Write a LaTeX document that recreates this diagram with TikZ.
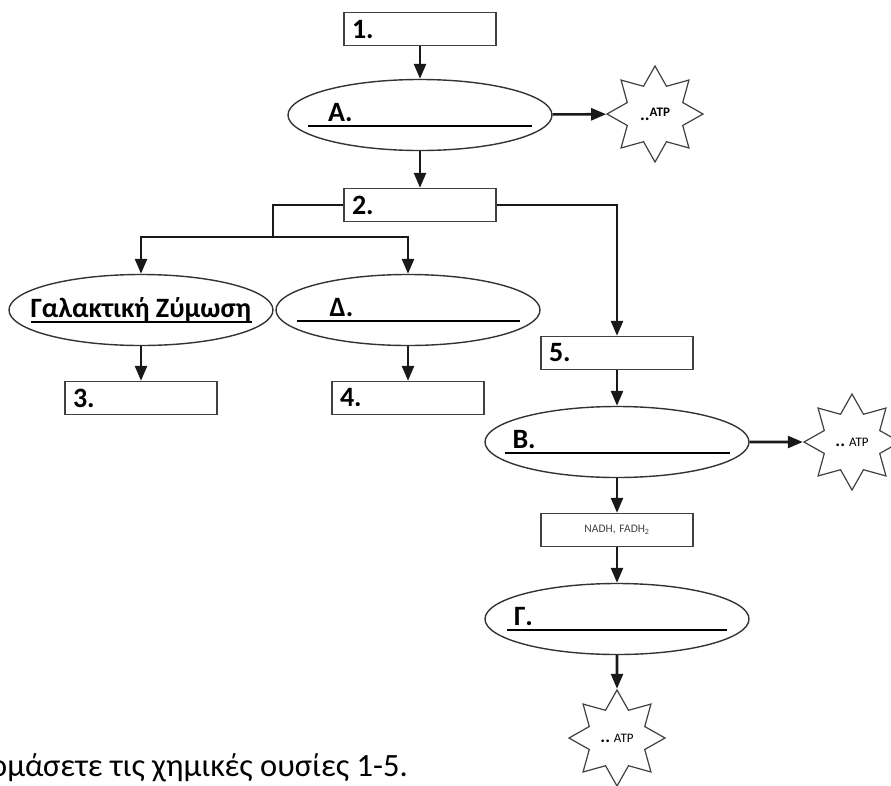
\documentclass[tikz,border=0pt]{standalone}
\usepackage{fontspec}
\setmainfont{Carlito}
\usetikzlibrary{shapes.geometric,arrows.meta}
\newcommand{\fillin}[3]{\makebox[0pt]{\makebox[#1][l]{\rlap{\rule[-6pt]{#1}{1.8pt}}\hspace*{#2}#3}}}

\begin{document}
\begin{tikzpicture}[
    x=1pt, y=-1pt,
    every node/.style={align=center, font=\bfseries\fontsize{28}{30}\selectfont},
    box/.style={draw=black!75, line width=1.4pt, minimum width=152pt, minimum height=33pt,
      text width=136pt, align=left, inner xsep=8pt, inner ysep=0pt},
    proc/.style={ellipse, draw=black!80, line width=1.4pt, minimum width=264pt,
      minimum height=71pt, inner sep=0pt},
    atp/.style={star, star points=8, star point ratio=1.6, draw=black!75, line width=1.2pt,
      minimum size=96pt, inner sep=0pt, font=\fontsize{13}{14}\selectfont},
    flow/.style={line width=2.6pt, draw=black!90, -{Triangle[length=15pt,width=12pt]}},
    link/.style={line width=2.6pt, draw=black!90}
  ]
  \useasboundingbox (0,0) rectangle (891,785);

  % first stage
  \node[box] (s1) at (420,29) {1.};
  \node[proc] (pA) at (420,115) {\fillin{224pt}{20pt}{Α.}};
  \node[atp] (atpA) at (655,114) {{\bfseries\fontsize{18}{18}\selectfont..}\raisebox{4pt}{\bfseries ATP}};
  \node[box] (s2) at (420,205) {2.};
  \coordinate (split) at (273,237);

  % fermentation branch
  \node[proc] (pLac) at (141,310) {\fillin{221pt}{0pt}{Γαλακτική Ζύμωση}};
  \node[proc] (pD) at (408,310) {\fillin{223pt}{33pt}{Δ.}};
  \node[box] (s3) at (141,398) {3.};
  \node[box] (s4) at (408,398) {4.};

  % respiration branch
  \node[box] (s5) at (617,353) {5.};
  \node[proc] (pB) at (617,442) {\fillin{225pt}{8pt}{Β.}};
  \node[atp] (atpB) at (852,442) {{\bfseries\fontsize{18}{18}\selectfont..} ATP};
  \node[box, align=center, font=\fontsize{11.5}{12}\selectfont\color{black!75}] (sN) at (617,530)
    {NADH, FADH\textsubscript{2}};
  \node[proc] (pC) at (617,619) {\fillin{220pt}{7pt}{Γ.}};
  \node[atp] (atpC) at (617,738) {{\bfseries\fontsize{18}{18}\selectfont..} ATP};

  \node[anchor=base west, inner sep=0pt, font=\fontsize{32.5}{34}\selectfont] (task) at (-10,776)
    {ομάσετε τις χημικές ουσίες 1-5.};

  % arrows
  \draw[flow] (s1) -- (pA);
  \draw[flow] (pA) -- (atpA);
  \draw[flow] (pA) -- (s2);
  \draw[link] (s2.west) -| (split);
  \draw[flow] (split) -| (pLac.north);
  \draw[flow] (split) -| (pD.north);
  \draw[flow] (s2.east) -| (s5.north);
  \draw[flow] (pLac) -- (s3);
  \draw[flow] (pD) -- (s4);
  \draw[flow] (s5) -- (pB);
  \draw[flow] (pB) -- (atpB);
  \draw[flow] (pB) -- (sN);
  \draw[flow] (sN) -- (pC);
  \draw[flow] (pC) -- (atpC);
\end{tikzpicture}
\end{document}
